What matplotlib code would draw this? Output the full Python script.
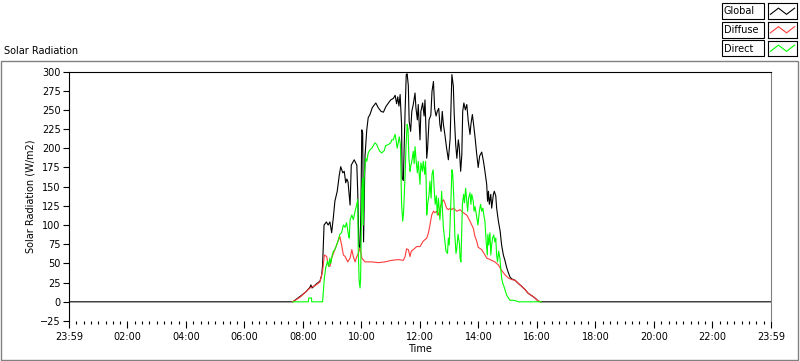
import matplotlib.pyplot as plt
import matplotlib as mpl
import numpy as np
from matplotlib.patches import Rectangle

mpl.rcParams["font.family"] = ["DejaVu Sans"]
mpl.rcParams["font.size"] = 7

# time in decimal hours, radiation in W/m2
t_global = [0.00, 7.65, 7.90, 8.10, 8.24, 8.27, 8.31, 8.45, 8.58, 8.64, 8.67, 8.72, 8.80, 8.86, 8.92,
            8.98, 9.04, 9.09, 9.17, 9.24, 9.29, 9.36, 9.41, 9.46, 9.50, 9.54, 9.58, 9.61, 9.65, 9.75,
            9.84, 9.87, 9.91, 9.95, 9.98, 10.01, 10.04, 10.07, 10.12, 10.18, 10.23, 10.29, 10.37, 10.49,
            10.57, 10.67, 10.75, 10.83, 10.92, 11.00, 11.09, 11.15, 11.20, 11.24, 11.28, 11.32, 11.37,
            11.39, 11.43, 11.49, 11.53, 11.56, 11.60, 11.63, 11.68, 11.72, 11.77, 11.83, 11.86, 11.91,
            11.94, 12.00, 12.03, 12.09, 12.14, 12.17, 12.21, 12.23, 12.26, 12.31, 12.37, 12.41, 12.46,
            12.50, 12.55, 12.59, 12.64, 12.68, 12.72, 12.76, 12.80, 12.85, 12.91, 12.97, 13.03, 13.06,
            13.09, 13.14, 13.17, 13.22, 13.26, 13.31, 13.34, 13.39, 13.43, 13.46, 13.50, 13.55, 13.60,
            13.65, 13.71, 13.74, 13.79, 13.82, 13.88, 13.94, 13.99, 14.04, 14.11, 14.17, 14.22, 14.28,
            14.31, 14.34, 14.37, 14.42, 14.45, 14.51, 14.54, 14.59, 14.62, 14.68, 14.74, 14.79, 14.85,
            14.91, 14.96, 15.02, 15.08, 15.13, 15.25, 15.36, 15.48, 15.59, 15.70, 15.82, 15.93, 16.04,
            16.12, 24.00]
global_rad = [0, 0, 7, 13, 19, 22, 18, 23, 27, 35, 48, 100, 104, 100, 104,
              90, 111, 131, 144, 165, 176, 168, 170, 155, 160, 156, 139, 126, 178, 185,
              178, 144, 74, 70, 120, 224, 220, 78, 190, 224, 240, 244, 253, 259,
              253, 248, 247, 254, 259, 263, 265, 269, 258, 267, 255, 270, 231,
              161, 158, 248, 296, 297, 282, 235, 222, 248, 257, 272, 253, 237,
              257, 211, 248, 259, 242, 263, 218, 187, 200, 237, 243, 274, 287,
              252, 242, 248, 252, 231, 222, 248, 231, 218, 200, 185, 213, 257,
              296, 281, 244, 205, 187, 211, 202, 170, 192, 248, 259, 250, 257,
              235, 218, 231, 244, 235, 215, 192, 175, 190, 195, 183, 170, 153,
              131, 144, 127, 140, 122, 140, 144, 138, 122, 105, 92, 74, 61,
              53, 45, 38, 32, 30, 28, 24, 20, 16, 11, 8, 5, 1,
              0, 0]

t_diffuse = [7.62, 7.65, 7.90, 8.24, 8.45, 8.58, 8.67, 8.73, 8.81, 8.86, 8.92, 8.98, 9.04, 9.15, 9.26,
             9.32, 9.38, 9.44, 9.53, 9.61, 9.67, 9.72, 9.78, 9.84, 9.89, 9.95, 10.01, 10.12, 10.35,
             10.58, 10.80, 11.03, 11.26, 11.43, 11.49, 11.54, 11.60, 11.66, 11.70, 11.77, 11.89, 12.00,
             12.11, 12.23, 12.29, 12.34, 12.40, 12.46, 12.51, 12.57, 12.63, 12.68, 12.74, 12.80, 12.85,
             12.91, 12.97, 13.03, 13.09, 13.14, 13.26, 13.37, 13.48, 13.60, 13.71, 13.82, 13.88, 13.94,
             13.99, 14.11, 14.22, 14.28, 14.34, 14.45, 14.56, 14.68, 14.79, 14.91, 15.02, 15.13, 15.25,
             15.36, 15.48, 15.59, 15.70, 15.82, 15.93, 16.04, 16.12]
diffuse_rad = [0, 0, 6, 18, 22, 26, 40, 61, 59, 48, 46, 57, 63, 74, 85,
               74, 61, 59, 52, 57, 68, 59, 52, 59, 63, 70, 57, 52, 52,
               51, 52, 54, 55, 54, 59, 69, 68, 59, 66, 68, 72, 72,
               79, 83, 90, 100, 113, 118, 116, 118, 113, 122, 129, 133, 129,
               122, 120, 122, 120, 122, 118, 120, 116, 113, 105, 96, 85, 79,
               71, 68, 61, 57, 56, 54, 52, 48, 41, 35, 31, 29, 28,
               24, 20, 16, 11, 8, 5, 1, 0]

t_direct = [7.65, 8.18, 8.20, 8.29, 8.30, 8.67, 8.73, 8.78, 8.84, 8.88, 8.92, 8.95, 9.00, 9.04, 9.09,
            9.15, 9.21, 9.26, 9.32, 9.38, 9.44, 9.49, 9.55, 9.58, 9.61, 9.67, 9.72, 9.78, 9.84, 9.87,
            9.89, 9.92, 9.95, 9.97, 10.01, 10.04, 10.06, 10.09, 10.14, 10.18, 10.23, 10.29, 10.35, 10.46,
            10.52, 10.57, 10.63, 10.69, 10.78, 10.82, 10.92, 11.00, 11.03, 11.09, 11.12, 11.15, 11.18,
            11.22, 11.26, 11.29, 11.33, 11.37, 11.41, 11.44, 11.49, 11.52, 11.56, 11.59, 11.62, 11.66,
            11.68, 11.72, 11.77, 11.80, 11.83, 11.87, 11.91, 11.94, 12.00, 12.03, 12.08, 12.11, 12.16,
            12.19, 12.21, 12.23, 12.26, 12.31, 12.34, 12.38, 12.41, 12.45, 12.49, 12.52, 12.56, 12.59,
            12.63, 12.66, 12.68, 12.72, 12.74, 12.77, 12.80, 12.84, 12.89, 12.94, 12.97, 13.00, 13.03,
            13.06, 13.09, 13.12, 13.16, 13.19, 13.23, 13.26, 13.30, 13.35, 13.37, 13.40, 13.42, 13.45,
            13.49, 13.52, 13.56, 13.59, 13.63, 13.66, 13.71, 13.74, 13.77, 13.82, 13.85, 13.88, 13.93,
            13.98, 14.03, 14.07, 14.11, 14.15, 14.19, 14.22, 14.26, 14.30, 14.32, 14.35, 14.39, 14.42,
            14.45, 14.48, 14.52, 14.56, 14.59, 14.62, 14.65, 14.69, 14.73, 14.76, 14.79, 14.83, 14.87,
            14.91, 14.96, 15.02, 15.08, 15.20, 15.30, 15.36, 16.15]
direct_rad = [0, 0, 5, 5, 0, 0, 31, 45, 53, 46, 57, 50, 61, 66, 68,
              74, 81, 88, 90, 100, 97, 103, 88, 83, 107, 113, 107, 118, 127, 133,
              66, 27, 18, 31, 144, 161, 100, 161, 187, 183, 194, 198, 200, 207,
              205, 200, 196, 194, 197, 203, 205, 207, 211, 211, 215, 218, 211,
              200, 208, 215, 205, 127, 105, 118, 165, 200, 231, 226, 187, 170,
              176, 183, 196, 180, 202, 183, 168, 183, 153, 181, 170, 183, 166,
              183, 157, 113, 127, 140, 157, 135, 166, 172, 144, 127, 138, 113,
              135, 118, 107, 127, 144, 118, 96, 83, 66, 63, 83, 74, 105,
              135, 172, 166, 131, 88, 63, 70, 88, 75, 57, 52, 83, 127,
              140, 129, 148, 135, 118, 135, 142, 127, 140, 131, 118, 124, 113,
              100, 118, 127, 118, 122, 111, 105, 79, 61, 88, 74, 90, 61,
              74, 83, 87, 78, 83, 61, 52, 66, 57, 44, 31, 24, 20,
              15, 9, 5, 2, 2, 1, 0, 0]

labels = ["Global", "Diffuse", "Direct"]
colors = ["black", "#ff3c3c", "#00ff00"]
tick_label = ["23:59", "02:00", "04:00", "06:00", "08:00", "10:00", "12:00",
              "14:00", "16:00", "18:00", "20:00", "22:00", "23:59"]

fig = plt.figure(figsize=(8.0, 3.61), dpi=100)

# outer panel frame
fig.patches.append(Rectangle((1 / 800, 1.5 / 361), 797 / 800, 298.5 / 361, transform=fig.transFigure,
                             fill=False, edgecolor="#808080", lw=1))
fig.text(4 / 800, 1 - 51 / 361, "Solar Radiation", ha="left", va="center", fontsize=7)

ax = fig.add_axes([69 / 800, 1 - 321 / 361, 702 / 800, 249.5 / 361])
ax.plot(t_global, global_rad, color=colors[0], lw=0.8)
ax.plot(t_diffuse, diffuse_rad, color=colors[1], lw=0.8)
ax.plot(t_direct, direct_rad, color=colors[2], lw=0.8)

ax.set_xlim(0, 24)
ax.set_ylim(-25, 300)
ax.set_yticks(np.arange(-25, 301, 25))
ax.set_xticks(np.arange(0, 25, 2))
ax.set_xticklabels(tick_label)
ax.set_xticks(np.arange(0, 24.01, 0.25), minor=True)
ax.tick_params(axis="y", direction="out", length=4, width=0.8, labelsize=7, pad=2)
ax.tick_params(axis="x", which="major", direction="out", length=5, width=0.8, labelsize=7, pad=3)
ax.tick_params(axis="x", which="minor", direction="out", length=2.5, width=0.8)
ax.spines["bottom"].set_visible(False)
ax.spines["left"].set_linewidth(0.8)
ax.spines["top"].set_linewidth(0.8)
ax.spines["right"].set_color("#808080")
ax.spines["right"].set_linewidth(0.8)
ax.set_ylabel("Solar Radiation (W/m2)", fontsize=7, labelpad=3)
ax.set_xlabel("Time", fontsize=7, labelpad=1)

# legend boxes at top right
for i, (lab, col) in enumerate(zip(labels, colors)):
    top = 3.5 + i * 18.5
    fig.patches.append(Rectangle((722 / 800, 1 - (top + 15.5) / 361), 42 / 800, 15.5 / 361,
                                 transform=fig.transFigure, fill=True, facecolor="white",
                                 edgecolor="black", lw=0.8))
    fig.text(724 / 800, 1 - (top + 8) / 361, lab, ha="left", va="center", fontsize=7)
    sw = fig.add_axes([768 / 800, 1 - (top + 15.5) / 361, 29 / 800, 15.5 / 361])
    sw.plot([0, 1, 2, 3], [0.3, 0.7, 0.3, 0.7], color=col, lw=0.8)
    sw.set_xlim(-0.3, 3.3)
    sw.set_ylim(0, 1)
    sw.set_xticks([])
    sw.set_yticks([])
    for s in sw.spines.values():
        s.set_linewidth(0.8)

plt.savefig("out.png", dpi=100)
